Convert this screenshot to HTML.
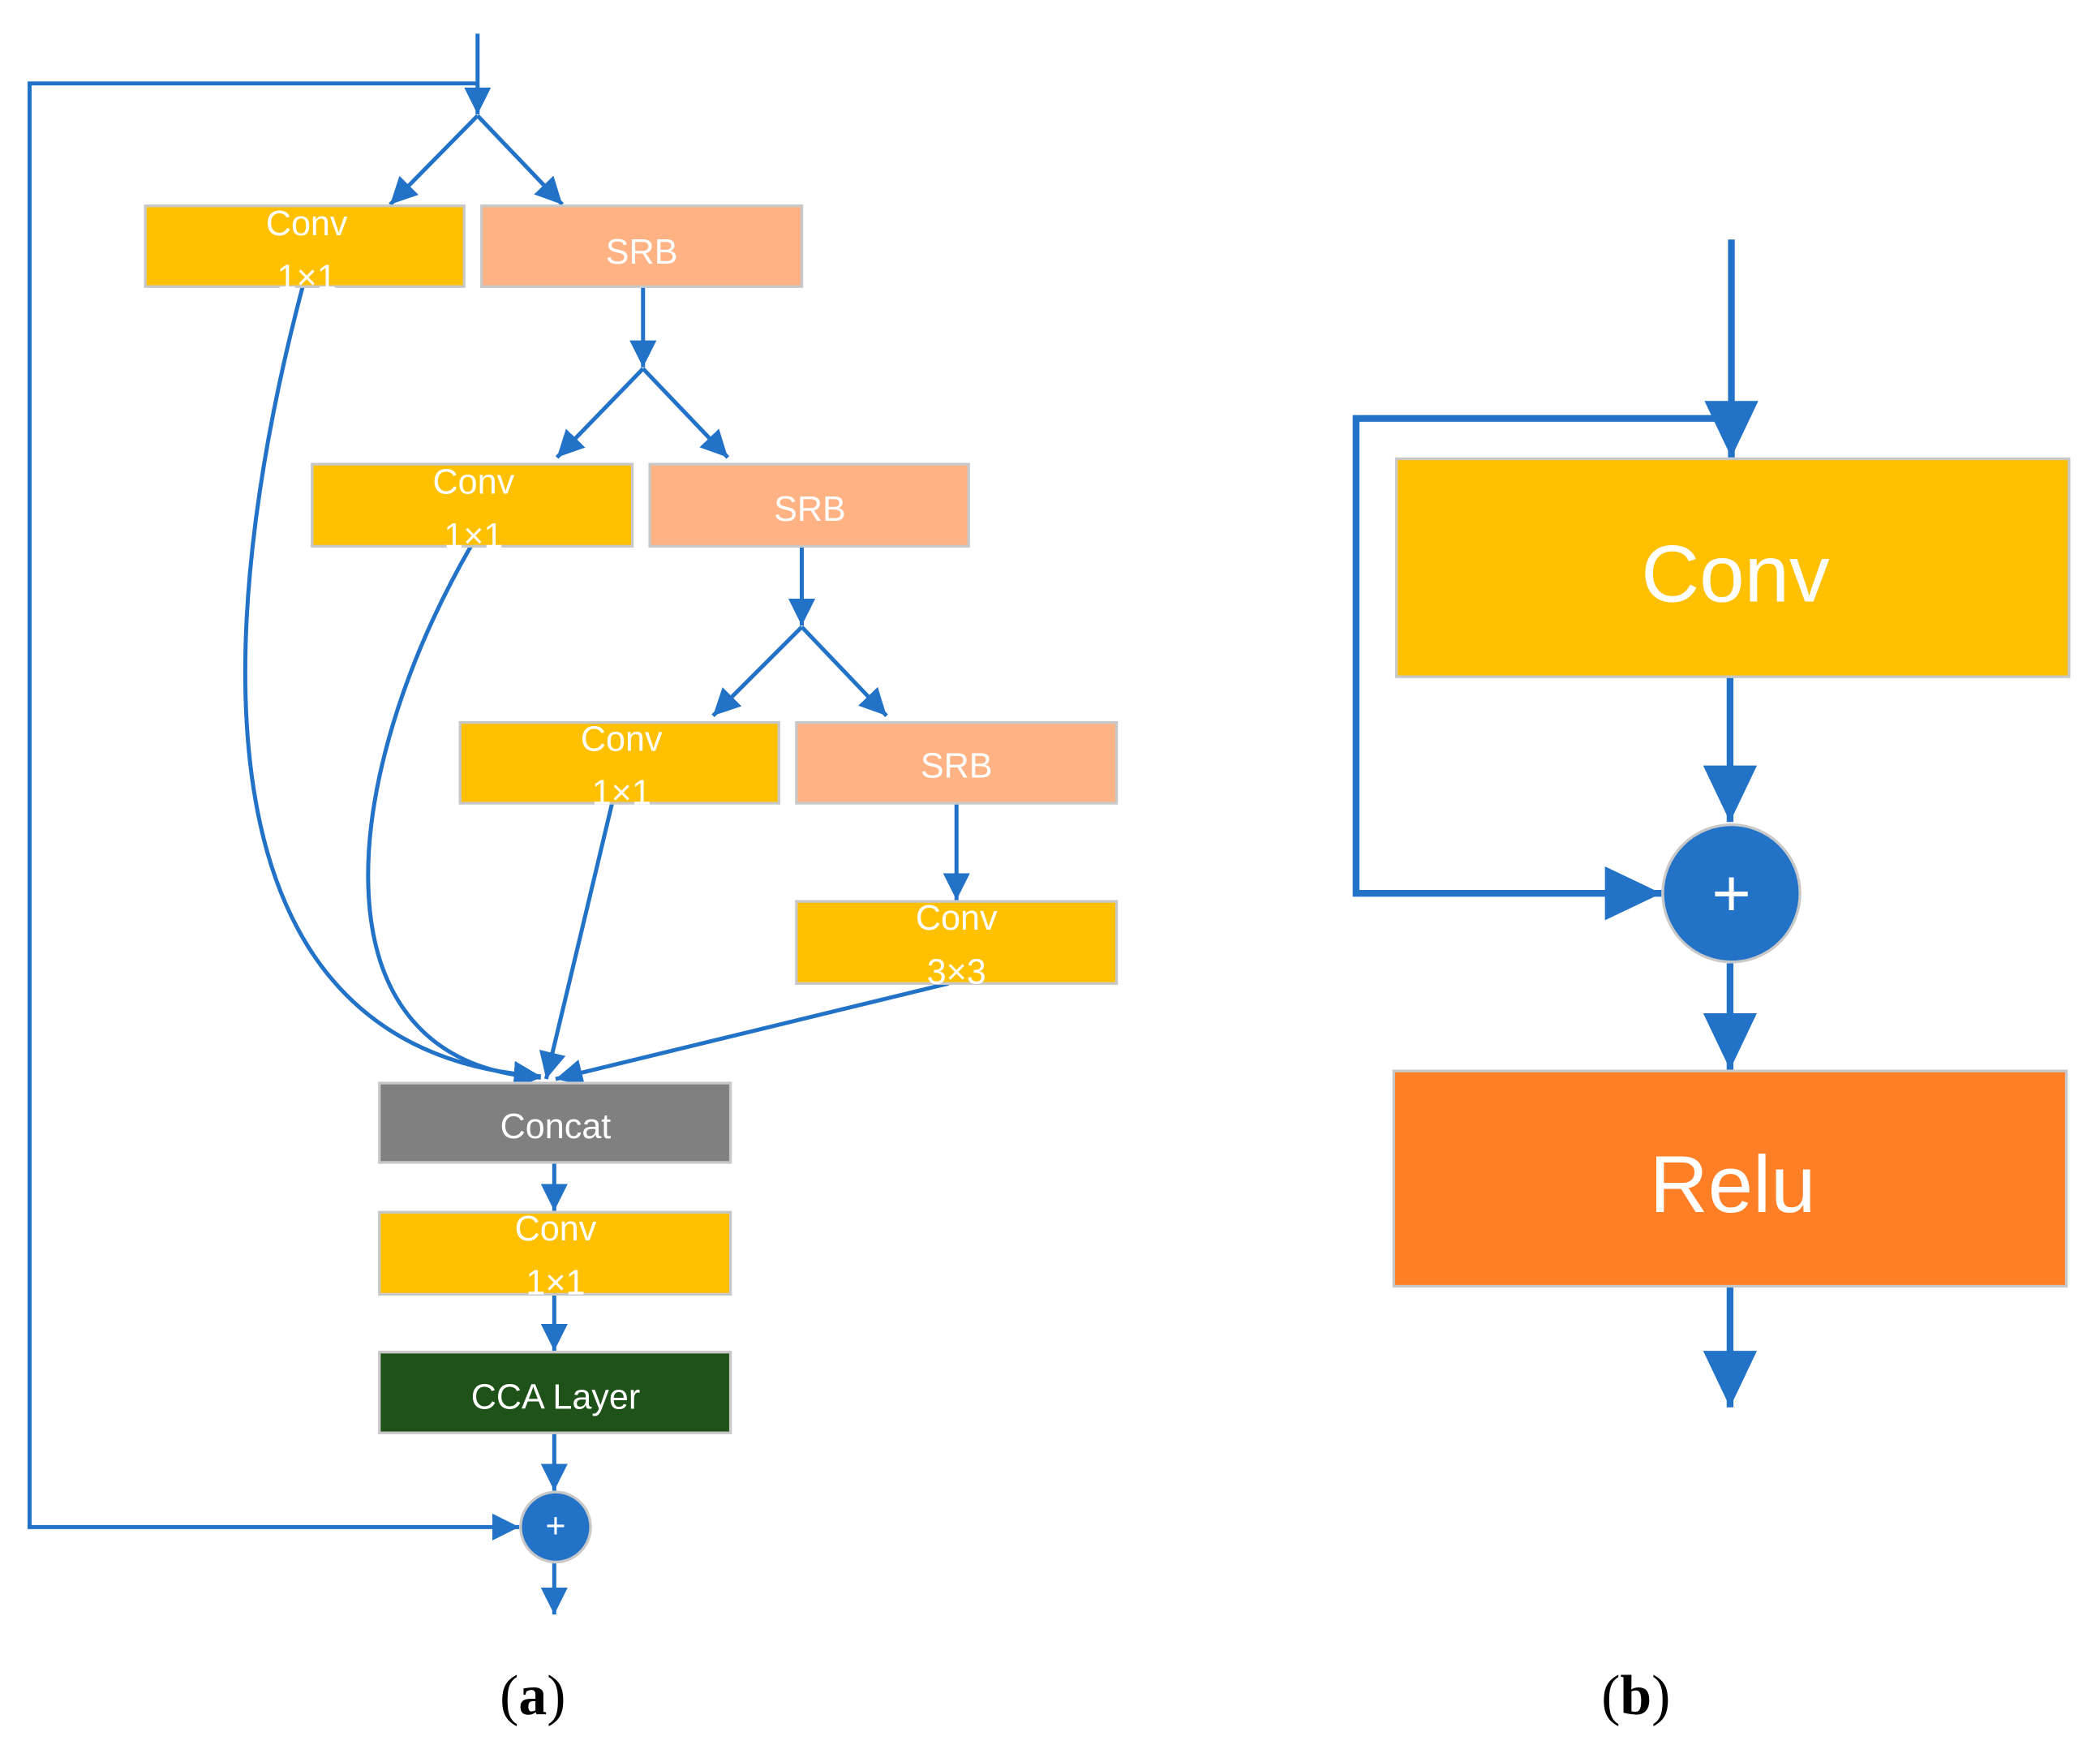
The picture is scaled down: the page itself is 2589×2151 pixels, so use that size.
<!DOCTYPE html>
<html><head><style>html,body{margin:0;padding:0;background:#fff}svg{display:block}</style></head>
<body>
<svg width="2589" height="2151" viewBox="0 0 1561 1297" preserveAspectRatio="none" xmlns="http://www.w3.org/2000/svg">
<defs>
<marker id="m" viewBox="0 0 10 10" refX="10" refY="5" markerWidth="20" markerHeight="20" markerUnits="userSpaceOnUse" orient="auto"><path d="M0,0 L10,5 L0,10 z" fill="#2272C8"/></marker>
<marker id="b" viewBox="0 0 10 10" refX="10" refY="5" markerWidth="42" markerHeight="40" markerUnits="userSpaceOnUse" orient="auto" preserveAspectRatio="none"><path d="M0,0 L10,5 L0,10 z" fill="#2272C8"/></marker>
</defs>
<g fill="none" stroke="#2272C8" stroke-width="3">
<line x1="355" y1="25" x2="355" y2="85" marker-end="url(#m)"/>
<polyline points="355,62 22,62 22,1135 386,1135" marker-end="url(#m)"/>
<line x1="355" y1="86" x2="290" y2="152" marker-end="url(#m)"/>
<line x1="355" y1="86" x2="418" y2="152" marker-end="url(#m)"/>
<line x1="478" y1="213" x2="478" y2="273" marker-end="url(#m)"/>
<line x1="478" y1="274" x2="414" y2="340" marker-end="url(#m)"/>
<line x1="478" y1="274" x2="541" y2="340" marker-end="url(#m)"/>
<line x1="596" y1="406" x2="596" y2="465" marker-end="url(#m)"/>
<line x1="596" y1="466" x2="530" y2="532" marker-end="url(#m)"/>
<line x1="596" y1="466" x2="659" y2="532" marker-end="url(#m)"/>
<line x1="711" y1="597" x2="711" y2="669" marker-end="url(#m)"/>
<path d="M225,213 C170,420 120,780 402,800" marker-end="url(#m)"/>
<path d="M350,406 C250,580 230,790 402,801" marker-end="url(#m)"/>
<line x1="455" y1="597" x2="406" y2="802" marker-end="url(#m)"/>
<line x1="705" y1="731" x2="413" y2="802" marker-end="url(#m)"/>
<line x1="412" y1="864" x2="412" y2="900" marker-end="url(#m)"/>
<line x1="412" y1="962" x2="412" y2="1004" marker-end="url(#m)"/>
<line x1="412" y1="1065" x2="412" y2="1108" marker-end="url(#m)"/>
<line x1="412" y1="1162" x2="412" y2="1200" marker-end="url(#m)"/>
</g>
<g stroke="#c8c8c8" stroke-width="2">
<rect x="108" y="153" width="237" height="60" fill="#FFC000"/>
<rect x="358" y="153" width="238" height="60" fill="#FFB283"/>
<rect x="232" y="345" width="238" height="61" fill="#FFC000"/>
<rect x="483" y="345" width="237" height="61" fill="#FFB283"/>
<rect x="342" y="537" width="237" height="60" fill="#FFC000"/>
<rect x="592" y="537" width="238" height="60" fill="#FFB283"/>
<rect x="592" y="670" width="238" height="61" fill="#FFC000"/>
<rect x="282" y="805" width="261" height="59" fill="#808080"/>
<rect x="282" y="901" width="261" height="61" fill="#FFC000"/>
<rect x="282" y="1005" width="261" height="60" fill="#1E5218"/>
<circle cx="413" cy="1135" r="26" fill="#2272C8"/>
</g>
<g fill="#fff" font-family="Liberation Sans, sans-serif" font-size="26" text-anchor="middle">
<text x="228" y="175">Conv</text><text x="228" y="215">1×1</text>
<text x="477" y="196">SRB</text>
<text x="352" y="367">Conv</text><text x="352" y="407">1×1</text>
<text x="602" y="387">SRB</text>
<text x="462" y="558">Conv</text><text x="462" y="598">1×1</text>
<text x="711" y="578">SRB</text>
<text x="711" y="691">Conv</text><text x="711" y="731">3×3</text>
<text x="413" y="846">Concat</text>
<text x="413" y="922">Conv</text><text x="413" y="962">1×1</text>
<text x="413" y="1047">CCA Layer</text>
<text x="413" y="1143" font-size="26">+</text>
</g>
<g fill="none" stroke="#2272C8" stroke-width="5">
<line x1="1287" y1="178" x2="1287" y2="340" marker-end="url(#b)"/>
<polyline points="1287,311 1008,311 1008,664 1235,664" marker-end="url(#b)"/>
<line x1="1286" y1="503" x2="1286" y2="611" marker-end="url(#b)"/>
<line x1="1286" y1="716" x2="1286" y2="795" marker-end="url(#b)"/>
<line x1="1286" y1="956" x2="1286" y2="1046" marker-end="url(#b)"/>
</g>
<g stroke="#c8c8c8" stroke-width="2">
<rect x="1038" y="341" width="500" height="162" fill="#FFC000"/>
<circle cx="1287" cy="664" r="51" fill="#2272C8"/>
<rect x="1036" y="796" width="500" height="160" fill="#FF7F27"/>
</g>
<g fill="#fff" font-family="Liberation Sans, sans-serif" text-anchor="middle">
<text x="1290" y="447" font-size="60">Conv</text>
<text x="1288" y="901" font-size="60">Relu</text>
<text x="1287" y="681" font-size="50">+</text>
</g>
<g fill="#000" font-family="Liberation Serif, serif" font-size="42" text-anchor="middle">
<text x="396" y="1274"><tspan>(</tspan><tspan font-weight="bold">a</tspan><tspan>)</tspan></text>
<text x="1216" y="1274"><tspan>(</tspan><tspan font-weight="bold">b</tspan><tspan>)</tspan></text>
</g>
</svg>
</body></html>
